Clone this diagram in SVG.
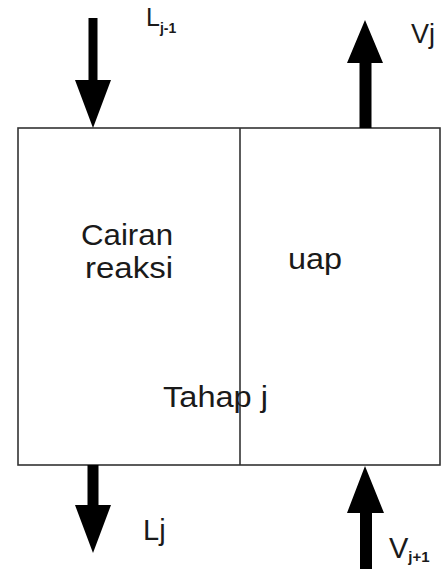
<svg xmlns="http://www.w3.org/2000/svg" width="445" height="569" viewBox="0 0 445 569">
<style>
.t{font-family:"Liberation Sans",Arial,sans-serif;fill:#1a1a1a}
.sub{font-weight:bold}
.ar{fill:#000}
</style>
<rect width="445" height="569" fill="#fff"/>
<g id="stage">
<rect x="18" y="128" width="422" height="337" fill="none" stroke="#333" stroke-width="1.6"/>
<line x1="240" y1="128" x2="240" y2="465" stroke="#333" stroke-width="1.6"/>
<text class="t" x="81" y="245" font-size="30" textLength="92" lengthAdjust="spacingAndGlyphs">Cairan</text>
<text class="t" x="85" y="278" font-size="30" textLength="88" lengthAdjust="spacingAndGlyphs">reaksi</text>
<text class="t" x="288" y="269" font-size="30" textLength="54" lengthAdjust="spacingAndGlyphs">uap</text>
<text class="t" x="163" y="407" font-size="30" textLength="105" lengthAdjust="spacingAndGlyphs">Tahap j</text>
</g>
<g id="connectors">
<g id="Ljm1"><polygon class="ar" points="88.5,18 97.5,18 97.5,80 111,80 93,128 75,80 88.5,80"/>
<text class="t" x="146" y="26" font-size="25">L<tspan class="sub" font-size="14" dy="7">j-1</tspan></text></g>
<g id="Vj"><polygon class="ar" points="359.5,128 371.5,128 371.5,63 383,63 365,20 347,63 359.5,63"/>
<text class="t" x="411" y="43" font-size="27">Vj</text></g>
<g id="Lj"><polygon class="ar" points="87.5,465 98.5,465 98.5,505 111,505 93,553 75,505 87.5,505"/>
<text class="t" x="143" y="540" font-size="29">Lj</text></g>
<g id="Vjp1"><polygon class="ar" points="360,569 372,569 372,513 384,513 365,466 347,513 360,513"/>
<text class="t" x="389" y="558" font-size="29">V<tspan class="sub" font-size="15" dy="4">j+1</tspan></text></g>
</g>
</svg>
